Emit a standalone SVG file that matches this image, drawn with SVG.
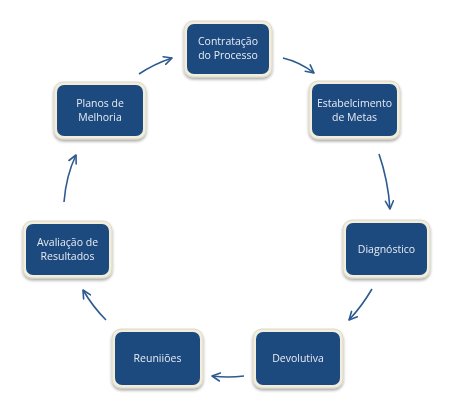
<svg xmlns="http://www.w3.org/2000/svg" width="454" height="411" viewBox="0 0 454 411">
<defs>
<filter id="sh" x="-20%" y="-20%" width="140%" height="150%">
<feGaussianBlur in="SourceAlpha" stdDeviation="1.6"/>
<feOffset dx="0" dy="2" result="b"/>
<feComponentTransfer><feFuncA type="linear" slope="0.35"/></feComponentTransfer>
<feMerge><feMergeNode/><feMergeNode in="SourceGraphic"/></feMerge>
</filter>
<marker id="ah" viewBox="0 0 10 10" refX="9" refY="5" markerWidth="10" markerHeight="10" markerUnits="userSpaceOnUse" orient="auto">
<path d="M1,1 L9,5 L1,9" fill="none" stroke="#2d5b8f" stroke-width="1.6" stroke-linecap="round" stroke-linejoin="round"/>
</marker>
</defs>
<style>
.outer{fill:#f2eedd;stroke:#d6d1bd;stroke-width:0.8}
.inner{fill:#1f4a7e}
.t{font-family:"Open Sans","Liberation Sans",sans-serif;font-size:10.5px;fill:#e6ebf3;text-anchor:middle}
.c{fill:none;stroke:#2d5b8f;stroke-width:1.6;marker-end:url(#ah)}
</style>
<rect width="454" height="411" fill="#ffffff"/>
<g id="connectors">
<path class="c" d="M283,58 Q300,62 314,73"/>
<path class="c" d="M379,154 Q388,180 390,209"/>
<path class="c" d="M372,289 Q362,306 349,320"/>
<path class="c" d="M244,376 Q228,378 212,376"/>
<path class="c" d="M106,320 Q93,307 83,290"/>
<path class="c" d="M64,202 Q66,176 76,155"/>
<path class="c" d="M139,74 Q154,64 172,58"/>
</g>
<g id="n1" filter="url(#sh)">
<rect class="outer" x="184" y="21" width="88" height="56" rx="9"/>
<rect class="inner" x="187" y="24" width="82" height="50" rx="7"/>
<text class="t" x="228" y="45">Contratação</text>
<text class="t" x="228" y="59">do Processo</text>
</g>
<g id="n2" filter="url(#sh)">
<rect class="outer" x="309" y="81" width="91" height="58" rx="9"/>
<rect class="inner" x="312" y="84" width="85" height="52" rx="7"/>
<text class="t" x="354.5" y="107">Estabelcimento</text>
<text class="t" x="354.5" y="121">de Metas</text>
</g>
<g id="n3" filter="url(#sh)">
<rect class="outer" x="343" y="220" width="87" height="58" rx="9"/>
<rect class="inner" x="346" y="223" width="81" height="52" rx="7"/>
<text class="t" x="386.5" y="253">Diagnóstico</text>
</g>
<g id="n4" filter="url(#sh)">
<rect class="outer" x="253" y="329" width="90" height="59" rx="9"/>
<rect class="inner" x="256" y="332" width="84" height="53" rx="7"/>
<text class="t" x="298" y="362">Devolutiva</text>
</g>
<g id="n5" filter="url(#sh)">
<rect class="outer" x="112" y="329" width="91" height="59" rx="9"/>
<rect class="inner" x="115" y="332" width="85" height="53" rx="7"/>
<text class="t" x="157.5" y="362">Reuniiões</text>
</g>
<g id="n6" filter="url(#sh)">
<rect class="outer" x="23" y="221" width="89" height="57" rx="9"/>
<rect class="inner" x="26" y="224" width="83" height="51" rx="7"/>
<text class="t" x="67.5" y="246">Avaliação de</text>
<text class="t" x="67.5" y="260">Resultados</text>
</g>
<g id="n7" filter="url(#sh)">
<rect class="outer" x="54" y="82" width="92" height="57" rx="9"/>
<rect class="inner" x="57" y="85" width="86" height="51" rx="7"/>
<text class="t" x="100" y="107">Planos de</text>
<text class="t" x="100" y="121">Melhoria</text>
</g>
</svg>
